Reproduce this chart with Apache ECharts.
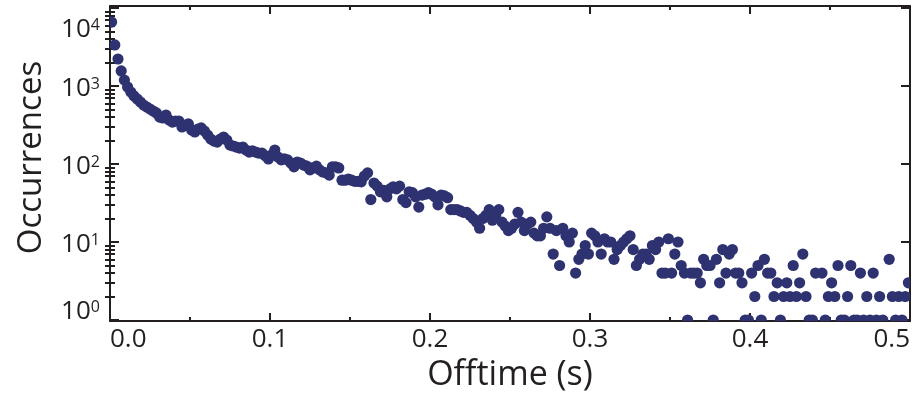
<!DOCTYPE html>
<html><head><meta charset="utf-8">
<script src="https://cdn.jsdelivr.net/npm/echarts@6/dist/echarts.min.js"></script>
<style>html,body{margin:0;padding:0;background:#fff}#c{width:919px;height:400px}</style>
</head><body><div id="c"></div>
<script>
// Histogram bin centres (s) of non-empty bins
const offtime = [
0.001,0.003,0.005,0.007,0.009,0.011,0.013,0.015,0.017,0.019,
0.021,0.023,0.025,0.027,0.029,0.031,0.033,0.035,0.037,0.039,
0.041,0.043,0.045,0.047,0.049,0.051,0.053,0.055,0.057,0.059,
0.061,0.063,0.065,0.067,0.069,0.071,0.073,0.075,0.077,0.079,
0.081,0.083,0.085,0.087,0.089,0.091,0.093,0.095,0.097,0.099,
0.101,0.103,0.105,0.107,0.109,0.111,0.113,0.115,0.117,0.119,
0.121,0.123,0.125,0.127,0.129,0.131,0.133,0.135,0.137,0.139,
0.141,0.143,0.145,0.147,0.149,0.151,0.153,0.155,0.157,0.159,
0.161,0.163,0.165,0.167,0.169,0.171,0.173,0.175,0.177,0.179,
0.181,0.183,0.185,0.187,0.189,0.191,0.193,0.195,0.197,0.199,
0.201,0.203,0.205,0.207,0.209,0.211,0.213,0.215,0.217,0.219,
0.221,0.223,0.225,0.227,0.229,0.231,0.233,0.235,0.237,0.239,
0.241,0.243,0.245,0.247,0.249,0.251,0.253,0.255,0.257,0.259,
0.261,0.263,0.265,0.267,0.269,0.271,0.273,0.275,0.277,0.279,
0.281,0.283,0.285,0.287,0.289,0.291,0.293,0.295,0.297,0.299,
0.301,0.303,0.305,0.307,0.309,0.311,0.313,0.315,0.317,0.319,
0.321,0.323,0.325,0.327,0.329,0.331,0.333,0.335,0.337,0.339,
0.341,0.343,0.345,0.347,0.349,0.351,0.353,0.355,0.357,0.359,
0.361,0.363,0.365,0.367,0.369,0.371,0.373,0.375,0.377,0.379,
0.381,0.383,0.385,0.387,0.389,0.391,0.393,0.395,0.397,0.399,
0.401,0.403,0.405,0.407,0.409,0.411,0.413,0.415,0.417,0.419,
0.421,0.423,0.425,0.427,0.429,0.431,0.433,0.435,0.437,0.439,
0.441,0.445,0.447,0.449,0.451,0.453,0.455,0.457,0.459,
0.461,0.463,0.465,0.467,0.469,0.471,0.473,0.475,0.477,0.479,
0.481,0.483,0.487,0.489,0.491,0.493,0.495,0.497,0.499
];
const occurrences = [
6600,3360,2220,1560,1190,970,838,745,681,623,
570,538,507,478,451,400,389,425,366,345,
355,355,298,316,326,273,257,281,290,265,
235,209,197,191,209,222,203,175,170,165,
160,165,151,142,147,142,138,138,127,116,
131,151,123,113,116,113,103,92,106,103,
97,94,84,89,94,84,79,77,72,92,
92,89,62,62,64,62,60,60,59,70,
77,35,57,52,44,46,38,48,51,48,
52,35,32,44,43,38,28,40,41,43,
41,38,30,40,39,37,26,26,26,25,
24,24,22,20,18,15,20,22,26,19,
22,26,18,16,14,15,17,24,18,14,
17,18,13,12,12,15,21,15,7,14,
5,15,12,10,13,4,6,7,9,7,
13,12,10,7,11,10,10,6,8,9,
10,11,12,8,5,6,7,7,6,9,
8,10,4,4,11,4,7,10,5,4,
1,4,4,4,3,6,5,5,1,6,
3,8,4,7,8,4,4,3,1,1,
4,2,5,1,6,4,4,2,3,1,
2,3,2,5,2,3,7,2,1,1,
4,4,1,2,3,2,5,1,1,
2,5,1,1,4,1,2,1,4,1,
2,1,6,2,1,2,1,2,3
];
const xTickLabels = ['0.0','0.1','0.2','0.3','0.4','0.5'];
const yTickValues = [1,10,100,1000,10000];
const yTickExponents = ['0','1','2','3','4'];
const yMinorTickValues = [2,3,4,5,6,7,8,9,20,30,40,50,60,70,80,90,200,300,400,500,600,700,800,900,2000,3000,4000,5000,6000,7000,8000,9000];

const FONT = 'Open Sans';
const INK = '#231f20';
const DOT = '#2e3271';
const chart = echarts.init(document.getElementById('c'));
const axLine = {show:true, onZero:false, lineStyle:{color:INK, width:2}};
const tickStyle = {color:INK, width:2};
const baseX = {type:'value', min:0, max:0.5, interval:0.1, splitLine:{show:false},
  axisLine:axLine, axisTick:{show:true, inside:true, length:8, lineStyle:tickStyle},
  minorTick:{show:true, splitNumber:2, length:4, lineStyle:tickStyle}};
const baseY = {type:'log', logBase:10, min:0.971, max:10607, splitLine:{show:false},
  minorTick:{show:false}, minorSplitLine:{show:false}};
const majorTickY = {show:true, inside:true, length:9, customValues:yTickValues, lineStyle:tickStyle};
const minorTickY = {show:true, inside:true, length:5, customValues:yMinorTickValues, lineStyle:tickStyle};
const powFmt = (v)=>'{m|10}{e|'+yTickExponents[Math.round(Math.log10(v))]+'}';
const powRich = {m:{fontFamily:FONT, fontSize:26, color:INK},
                 e:{fontFamily:FONT, fontSize:16, color:INK, verticalAlign:'top'}};
function yLabels(values, padding){
  return {show:true, customValues:values, margin:10, color:INK, verticalAlign:'middle',
    padding:padding, formatter:powFmt, rich:powRich};
}
const noTick = {show:false};

chart.setOption({
  animation:false,
  grid:{left:110, right:9, top:6, bottom:79},
  xAxis:[
    Object.assign({}, baseX, {position:'bottom', name:'Offtime (s)', nameLocation:'middle', nameGap:36,
      nameTextStyle:{fontFamily:FONT, fontSize:34, color:INK},
      axisLabel:{show:true, margin:6, fontFamily:FONT, fontSize:26, color:INK,
        alignMinLabel:'left', alignMaxLabel:'right',
        formatter:(v)=>xTickLabels[Math.round(v*10)]}}),
    Object.assign({}, baseX, {position:'top', axisLabel:{show:false}})
  ],
  yAxis:[
    Object.assign({}, baseY, {position:'left', name:'Occurrences', nameLocation:'middle', nameGap:62,
      nameTextStyle:{fontFamily:FONT, fontSize:33, color:INK, padding:[0,0,0,12]},
      axisLine:axLine, axisTick:majorTickY,
      axisLabel:yLabels(yTickValues.slice(1,4), [6,0,0,0])}),
    Object.assign({}, baseY, {position:'right', axisLine:axLine, axisTick:majorTickY, axisLabel:{show:false}}),
    Object.assign({}, baseY, {position:'left', axisLine:{show:false}, axisTick:minorTickY,
      axisLabel:yLabels(yTickValues.slice(4,5), [44,0,0,0])}),
    Object.assign({}, baseY, {position:'right', axisLine:{show:false}, axisTick:minorTickY, axisLabel:{show:false}}),
    Object.assign({}, baseY, {position:'left', axisLine:{show:false}, axisTick:noTick,
      axisLabel:yLabels(yTickValues.slice(0,1), [0,0,16,0])})
  ],
  series:[{type:'custom', xAxisIndex:0, yAxisIndex:0, clip:true, z:3,
    encode:{x:0, y:1},
    data: offtime.map((x,i)=>[x, occurrences[i]]),
    renderItem:function(params, api){
      const p = api.coord([api.value(0), api.value(1)]);
      return {type:'circle', shape:{cx:p[0], cy:p[1], r:5.6}, style:{fill:DOT}};
    }}]
});
</script></body></html>
